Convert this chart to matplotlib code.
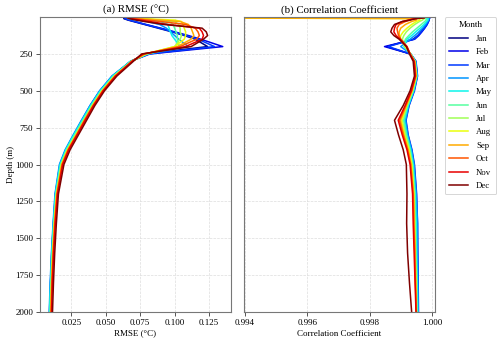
import matplotlib
matplotlib.use("Agg")
import matplotlib.pyplot as plt
import numpy as np

plt.rcParams['font.family'] = ['Liberation Serif', 'DejaVu Serif']

months = ["Jan", "Feb", "Mar", "Apr", "May", "Jun", "Jul", "Aug", "Sep", "Oct", "Nov", "Dec"]
depth = [5, 10, 20, 30, 50, 75, 100, 125, 150, 200, 250,
         300, 400, 500, 600, 700, 800, 900, 1000, 1200, 1400, 1600, 1800, 2000]

# RMSE (degC) per month
rmse_jan = [.064, .063, .066, .070, .078, .088, .098, .107, .115, .124, .079,
            .068, .0555, .0465, .0395, .0335, .0275, .0215, .0172, .0137, .0122, .0110, .0101, .0095]
rmse_feb = [.065, .064, .067, .071, .079, .090, .100, .110, .119, .135, .082,
            .068, .055, .046, .039, .033, .027, .021, .0168, .0134, .0119, .0107, .0098, .0092]
rmse_mar = [.065, .064, .067, .071, .079, .089, .099, .108, .117, .129, .081,
            .068, .0545, .0455, .0385, .0325, .0265, .0207, .0165, .0132, .0118, .0106, .0097, .0090]
rmse_apr = [.066, .066, .072, .080, .089, .094, .097, .100, .103, .110, .081,
            .068, .0545, .0455, .0385, .0322, .0262, .0204, .0162, .0130, .0116, .0104, .0095, .0088]
rmse_may = [.066, .068, .080, .090, .095, .096, .097, .098, .100, .104, .080,
            .068, .055, .046, .039, .0328, .0267, .0209, .0167, .0134, .0119, .0107, .0098, .0091]
rmse_jun = [.066, .072, .088, .096, .099, .100, .101, .102, .102, .103, .080,
            .068, .0555, .0465, .0395, .0334, .0273, .0214, .0172, .0137, .0122, .0110, .0101, .0095]
rmse_jul = [.066, .070, .090, .100, .103, .104, .104, .105, .104, .100, .079,
            .069, .056, .047, .040, .034, .028, .0218, .0175, .0140, .0125, .0113, .0104, .0098]
rmse_aug = [.066, .075, .100, .105, .106, .107, .108, .108, .107, .100, .079,
            .069, .0565, .0475, .0405, .0345, .0283, .0222, .0178, .0142, .0126, .0114, .0105, .0099]
rmse_sep = [.066, .072, .090, .104, .110, .112, .113, .114, .112, .102, .078,
            .069, .0565, .0475, .0405, .0345, .0285, .0224, .0180, .0143, .0127, .0115, .0106, .0100]
rmse_oct = [.066, .070, .080, .090, .108, .115, .117, .118, .116, .104, .078,
            .069, .057, .048, .041, .0345, .0287, .0226, .0182, .0145, .0129, .0117, .0108, .0102]
rmse_nov = [.066, .068, .075, .082, .095, .118, .120, .121, .120, .108, .077,
            .069, .057, .048, .041, .035, .029, .0230, .0186, .0148, .0132, .0120, .0111, .0105]
rmse_dec = [.066, .067, .072, .078, .092, .120, .123, .124, .121, .112, .076,
            .070, .058, .049, .042, .036, .030, .0240, .0195, .0155, .0140, .0128, .0119, .0112]

# Correlation coefficient per month
corr_jan = [.99992, .99991, .99990, .99988, .99983, .99975, .99965, .99955, .99940, .99855, .99930,
            .99947, .99952, .99941, .99923, .99912, .99920, .99932, .99940, .99947, .99950, .99951, .99953, .99954]
corr_feb = [.99993, .99992, .99991, .99989, .99985, .99977, .99968, .99958, .99945, .99848, .99932,
            .99949, .99954, .99944, .99927, .99917, .99924, .99936, .99944, .99951, .99954, .99955, .99956, .99957]
corr_mar = [.99993, .99992, .99991, .99989, .99984, .99976, .99966, .99955, .99942, .99860, .99932,
            .99948, .99953, .99942, .99925, .99915, .99922, .99934, .99942, .99949, .99952, .99953, .99955, .99956]
corr_apr = [.99990, .99990, .99989, .99986, .99980, .99970, .99958, .99945, .99930, .99900, .99932,
            .99948, .99953, .99943, .99926, .99916, .99923, .99935, .99943, .99950, .99954, .99954, .99955, .99956]
corr_may = [.99985, .99988, .99987, .99983, .99975, .99962, .99948, .99935, .99920, .99910, .99932,
            .99947, .99952, .99941, .99924, .99912, .99920, .99932, .99940, .99947, .99950, .99951, .99953, .99954]
corr_jun = [.99960, .99982, .99982, .99977, .99966, .99952, .99938, .99926, .99915, .99912, .99932,
            .99946, .99951, .99940, .99922, .99909, .99918, .99930, .99938, .99945, .99947, .99949, .99951, .99952]
corr_jul = [.99960, .99975, .99970, .99960, .99945, .99930, .99918, .99910, .99905, .99915, .99932,
            .99945, .99950, .99938, .99920, .99905, .99915, .99928, .99936, .99943, .99945, .99947, .99949, .99951]
corr_aug = [.99000, .99960, .99962, .99950, .99935, .99920, .99908, .99900, .99898, .99915, .99930,
            .99945, .99950, .99937, .99919, .99902, .99912, .99926, .99935, .99942, .99944, .99946, .99948, .99950]
corr_sep = [.99150, .99950, .99950, .99935, .99915, .99900, .99895, .99895, .99900, .99918, .99930,
            .99944, .99949, .99936, .99918, .99899, .99910, .99924, .99933, .99941, .99943, .99946, .99948, .99950]
corr_oct = [.99970, .99940, .99930, .99915, .99895, .99888, .99890, .99893, .99900, .99920, .99930,
            .99944, .99948, .99935, .99916, .99896, .99908, .99922, .99932, .99940, .99942, .99945, .99947, .99950]
corr_nov = [.99975, .99945, .99925, .99905, .99885, .99880, .99878, .99885, .99898, .99920, .99930,
            .99943, .99947, .99934, .99914, .99892, .99905, .99920, .99930, .99938, .99940, .99943, .99946, .99949]
corr_dec = [.99975, .99950, .99930, .99905, .99880, .99872, .99868, .99878, .99895, .99918, .99928,
            .99940, .99944, .99930, .99908, .99880, .99893, .99908, .99918, .99920, .99919, .99922, .99928, .99935]

rmse_all = [rmse_jan, rmse_feb, rmse_mar, rmse_apr, rmse_may, rmse_jun,
            rmse_jul, rmse_aug, rmse_sep, rmse_oct, rmse_nov, rmse_dec]
corr_all = [corr_jan, corr_feb, corr_mar, corr_apr, corr_may, corr_jun,
            corr_jul, corr_aug, corr_sep, corr_oct, corr_nov, corr_dec]

colors = plt.cm.jet(np.linspace(0, 1, 12))

fig = plt.figure(figsize=(5.0, 3.42), dpi=100)
ax1 = fig.add_axes([0.080, 0.088, 0.382, 0.862])
ax2 = fig.add_axes([0.488, 0.088, 0.382, 0.862])

for i, m in enumerate(months):
    ax1.plot(rmse_all[i], depth, color=colors[i], lw=1.1, label=m)
    ax2.plot(corr_all[i], depth, color=colors[i], lw=1.1, label=m)

for ax in (ax1, ax2):
    ax.set_ylim(2000, 0)
    ax.grid(True, ls='--', lw=0.5, color='#dddddd')
    ax.set_axisbelow(True)
    ax.tick_params(labelsize=6.5, length=3, width=0.7, color='#555555', pad=2)
    for s in ax.spines.values():
        s.set_color('#777777')

ax1.set_xlim(0.0021, 0.141)
ax1.set_xticks([0.025, 0.050, 0.075, 0.100, 0.125])
ax1.set_xticklabels(["0.025", "0.050", "0.075", "0.100", "0.125"])
ax1.set_yticks([250, 500, 750, 1000, 1250, 1500, 1750, 2000])
ax1.set_ylabel("Depth (m)", fontsize=6.5, labelpad=0)
ax1.set_xlabel("RMSE (°C)", fontsize=6.5, labelpad=2)
ax1.set_title("(a) RMSE (°C)", fontsize=7.8, pad=3)

ax2.set_xlim(0.99397, 1.0001)
ax2.set_xticks([0.994, 0.996, 0.998, 1.000])
ax2.set_xticklabels(["0.994", "0.996", "0.998", "1.000"])
ax2.set_yticks([250, 500, 750, 1000, 1250, 1500, 1750, 2000])
ax2.tick_params(axis='y', left=False, labelleft=False)
ax2.set_xlabel("Correlation Coefficient", fontsize=6.5, labelpad=2)
ax2.set_title("(b) Correlation Coefficient", fontsize=7.8, pad=3)

leg = ax2.legend(title="Month", loc='upper left', bbox_to_anchor=(1.05, 1.0),
                 borderaxespad=0, fontsize=6.3, title_fontsize=6.5, frameon=True,
                 handlelength=2.2, labelspacing=0.6, borderpad=0.5, handletextpad=0.9)
leg.get_frame().set_edgecolor('#cccccc')
leg.get_frame().set_linewidth(0.7)

fig.savefig("out.png", dpi=100)
